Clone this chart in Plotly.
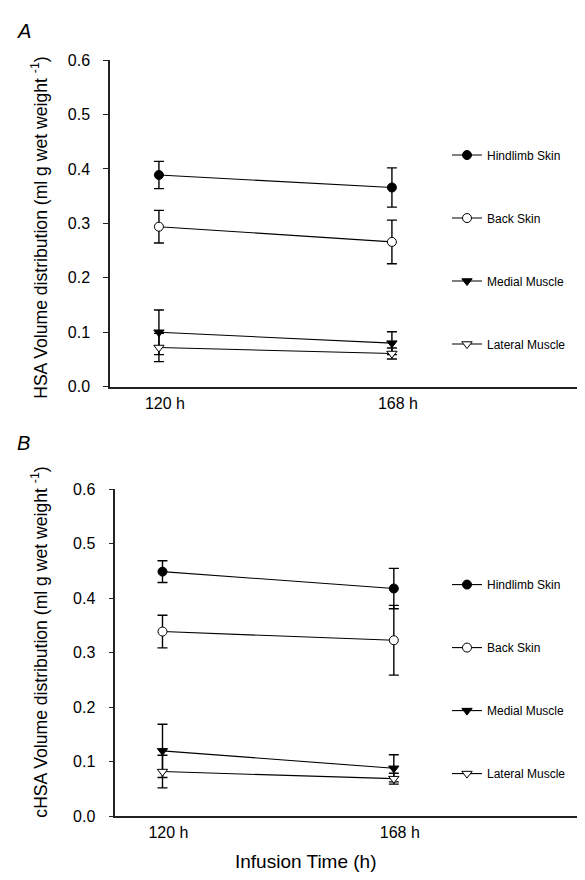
import plotly.graph_objects as go

times = ["120 h", "168 h"]
series_names = ["Hindlimb Skin", "Back Skin", "Medial Muscle", "Lateral Muscle"]

# Panel A (HSA)
a_hind = [0.389, 0.366]
a_hind_err = [0.025, 0.036]
a_back = [0.294, 0.266]
a_back_err = [0.030, 0.040]
a_medial = [0.100, 0.080]
a_medial_err = [0.041, 0.021]
a_lateral = [0.072, 0.061]
a_lateral_err = [0.026, 0.010]

# Panel B (cHSA)
b_hind = [0.449, 0.418]
b_hind_err = [0.020, 0.037]
b_back = [0.339, 0.323]
b_back_err = [0.030, 0.064]
b_medial = [0.120, 0.088]
b_medial_err = [0.049, 0.025]
b_lateral = [0.082, 0.069]
b_lateral_err = [0.030, 0.010]

yticks = [0.0, 0.1, 0.2, 0.3, 0.4, 0.5, 0.6]

FONT = "Liberation Sans, Arial, sans-serif"
styles = [
    dict(symbol="circle", color="black", line=dict(color="black", width=1)),
    dict(symbol="circle", color="white", line=dict(color="black", width=1)),
    dict(symbol="triangle-down", color="black", line=dict(color="black", width=1)),
    dict(symbol="triangle-down", color="white", line=dict(color="black", width=1)),
]

fig = go.Figure()

panels = [
    ("x", "y", "legend", [(a_hind, a_hind_err), (a_back, a_back_err), (a_medial, a_medial_err), (a_lateral, a_lateral_err)]),
    ("x2", "y2", "legend2", [(b_hind, b_hind_err), (b_back, b_back_err), (b_medial, b_medial_err), (b_lateral, b_lateral_err)]),
]
for xa, ya, leg, data in panels:
    for i, (vals, errs) in enumerate(data):
        fig.add_trace(go.Scatter(
            x=times, y=vals, xaxis=xa, yaxis=ya,
            mode="lines+markers",
            name=series_names[i],
            legend=leg,
            legendgroup=leg + str(i),
            line=dict(color="black", width=1.1),
            marker=dict(size=9, **styles[i]),
            error_y=dict(type="data", array=errs, visible=True, color="black", thickness=1.4, width=5),
        ))

axis_common = dict(
    showline=True, linecolor="#222", linewidth=1.5, showgrid=False, zeroline=False,
    tickfont=dict(family=FONT, size=16, color="black"),
)
fig.update_layout(
    width=585, height=880,
    margin=dict(l=0, r=0, t=0, b=0),
    plot_bgcolor="white", paper_bgcolor="white",
    showlegend=True,
    xaxis=dict(domain=[102/585, 1], anchor="y", type="category", range=[-0.21, 1.863],
               ticks="outside", ticklen=0, ticklabelstandoff=1, ticklabelshift=6, **axis_common),
    yaxis=dict(domain=[1-378/880, 1-45/880], anchor="x", range=[0, 0.6], tickvals=yticks,
               tickformat=".1f", ticks="outside", ticklen=5, tickcolor="#222", ticklabelstandoff=10, **axis_common),
    xaxis2=dict(domain=[107.3/585, 1], anchor="y2", type="category", range=[-0.204, 1.861],
                ticks="outside", ticklen=0, ticklabelstandoff=1, ticklabelshift=6, **axis_common),
    yaxis2=dict(domain=[1-816/880, 1-482.7/880], anchor="x2", range=[0, 0.6], tickvals=yticks,
                tickformat=".1f", ticks="outside", ticklen=5, tickcolor="#222", ticklabelstandoff=10, **axis_common),
    legend=dict(x=439/585, y=1-127/880, xanchor="left", yanchor="top", tracegroupgap=44,
                font=dict(family=FONT, size=12, color="black"), bgcolor="rgba(0,0,0,0)", itemwidth=30),
    legend2=dict(x=439/585, y=1-565/880, xanchor="left", yanchor="top", tracegroupgap=44,
                 font=dict(family=FONT, size=12, color="black"), bgcolor="rgba(0,0,0,0)", itemwidth=30),
    annotations=[
        dict(text="<i>A</i>", x=7/585, y=1-15/880, xref="paper", yref="paper", xanchor="left", yanchor="middle",
             showarrow=False, font=dict(family=FONT, size=20, color="black")),
        dict(text="<i>B</i>", x=7/585, y=1-435/880, xref="paper", yref="paper", xanchor="left", yanchor="middle",
             showarrow=False, font=dict(family=FONT, size=20, color="black")),
        dict(text="HSA Volume distribution (ml g wet weight <sup>-1</sup>)", textangle=-90,
             x=31/585, y=1-216/880, xref="paper", yref="paper", xanchor="center", yanchor="middle",
             showarrow=False, font=dict(family=FONT, size=17.6, color="black")),
        dict(text="cHSA Volume distribution (ml g wet weight <sup>-1</sup>)", textangle=-90,
             x=31/585, y=1-639/880, xref="paper", yref="paper", xanchor="center", yanchor="middle",
             showarrow=False, font=dict(family=FONT, size=17.6, color="black")),
        dict(text="Infusion Time (h)", x=298/585, y=1-862/880, xref="paper", yref="paper",
             xanchor="center", yanchor="middle", showarrow=False, font=dict(family=FONT, size=19, color="black")),
    ],
)

fig.write_html("out.html")
